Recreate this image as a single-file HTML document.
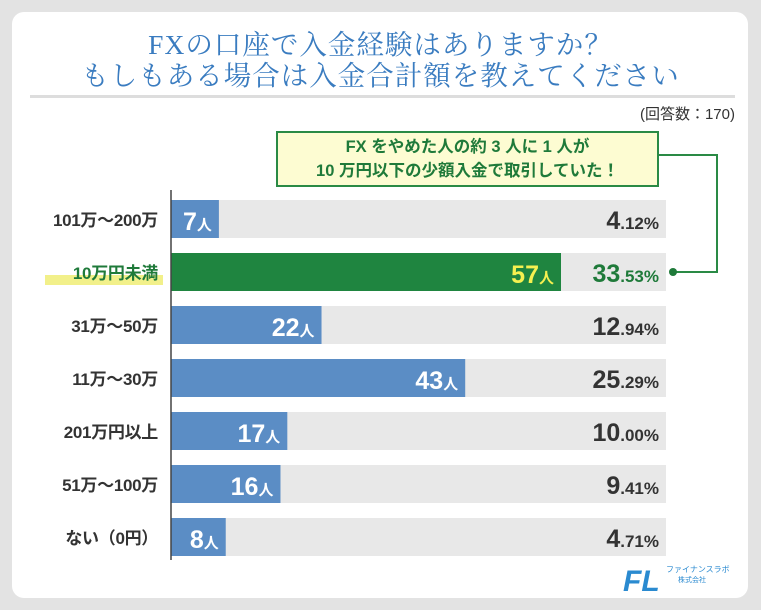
<!DOCTYPE html>
<html><head><meta charset="utf-8"><style>
body{margin:0;background:#e3e3e3;width:761px;height:610px;overflow:hidden;font-family:"Liberation Sans","Noto Sans CJK JP",sans-serif}
#card{position:absolute;left:12px;top:12px;width:736px;height:586px;background:#fff;border-radius:12px}
.t{position:absolute;left:0;width:761px;text-align:center;color:#3a7cc0;font-family:"Liberation Serif","Noto Serif CJK SC",serif;font-size:27.5px;letter-spacing:1px;line-height:32px}
</style></head><body>
<div id="card"></div>
<div class="t" style="top:29px">FXの口座で入金経験はありますか？</div>
<div class="t" style="top:60px">もしもある場合は入金合計額を教えてください</div>
<div style="position:absolute;left:30px;top:95px;width:705px;height:3px;background:#ddd"></div>
<div style="position:absolute;right:26px;top:103px;font-size:15px;color:#333">(回答数：170)</div>
<div style="position:absolute;left:276px;top:131px;width:379px;height:50px;background:#fdfcd2;border:2px solid #2a8a45;color:#1f7a3a;font-weight:bold;font-size:16.5px;text-align:center;line-height:24px;padding-top:2px;box-sizing:content-box">FX をやめた人の約 3 人に 1 人が<br>10 万円以下の少額入金で取引していた！</div>
<svg id="chart" width="761" height="610" style="position:absolute;left:0;top:0"></svg>
<svg width="130" height="45" style="position:absolute;left:620px;top:555px">
<text x="3" y="36" font-size="30" font-weight="bold" font-style="italic" fill="#2a8ad0" font-family="Liberation Sans">FL</text>
<text x="46" y="17" font-size="8" fill="#2a8ad0">ファイナンスラボ</text>
<text x="58" y="27" font-size="7" fill="#2a8ad0">株式会社</text>
</svg>
<script>
const categories=["101万～200万","10万円未満","31万～50万","11万～30万","201万円以上","51万～100万","ない（0円）"];
const counts=[7,57,22,43,17,16,8];
const percents=["4.12","33.53","12.94","25.29","10.00","9.41","4.71"];
const highlight=[false,true,false,false,false,false,false];
const svg=document.getElementById('chart');
const NS="http://www.w3.org/2000/svg";
const x0=171,xMax=57,wMax=390,bgEnd=666;
const xs=v=>x0+v/xMax*wMax;
const yTop=i=>200+i*53;
function mk(t,a,txt){const e=document.createElementNS(NS,t);for(const k in a)e.setAttribute(k,a[k]);if(txt!=null)e.textContent=txt;svg.appendChild(e);return e;}
categories.forEach((c,i)=>{
 const y=yTop(i),h=highlight[i];
 let e=mk('rect',{x:x0,y:y,width:bgEnd-x0,height:38,fill:'#e8e8e8'});
 
 
 e=mk('rect',{x:x0,y:y,width:xs(counts[i])-x0,height:38,fill:h?'#1f8540':'#5b8dc5'});
 
 
 if(h){e=mk('rect',{x:45,y:y+22,width:118,height:10,fill:'#f2f08a'});
 
 }
 e=mk('text',{x:158,y:y+26,'text-anchor':'end','font-size':17,'font-weight':'bold',fill:h?'#1f7a3a':'#333','letter-spacing':'-0.3'},c);
 
 
 e=mk('text',{x:xs(counts[i])-7,y:y+30,'text-anchor':'end','font-weight':'bold',fill:h?'#f5f050':'#fff'});
 
 
 const t1=document.createElementNS(NS,'tspan');t1.setAttribute('font-size',25);t1.textContent=counts[i];e.appendChild(t1);
 const t2=document.createElementNS(NS,'tspan');t2.setAttribute('font-size',15);t2.textContent='人';e.appendChild(t2);
 const p=percents[i].split('.');
 e=mk('text',{x:659,y:y+29,'text-anchor':'end','font-weight':'bold',fill:h?'#1f7a3a':'#333'});
 
 
 const a=document.createElementNS(NS,'tspan');a.setAttribute('font-size',25);a.textContent=p[0];e.appendChild(a);
 const b=document.createElementNS(NS,'tspan');b.setAttribute('font-size',17);b.textContent='.'+p[1]+'%';e.appendChild(b);
});
let ax=mk('line',{x1:x0,y1:190,x2:x0,y2:560,stroke:'#444','stroke-width':1.5});


let cn=mk('polyline',{points:'657,155 717,155 717,272 673,272',fill:'none',stroke:'#2a8a45','stroke-width':2});


cn=mk('circle',{cx:673,cy:272,r:4,fill:'#1f7a3a'});


</script>
</body></html>
